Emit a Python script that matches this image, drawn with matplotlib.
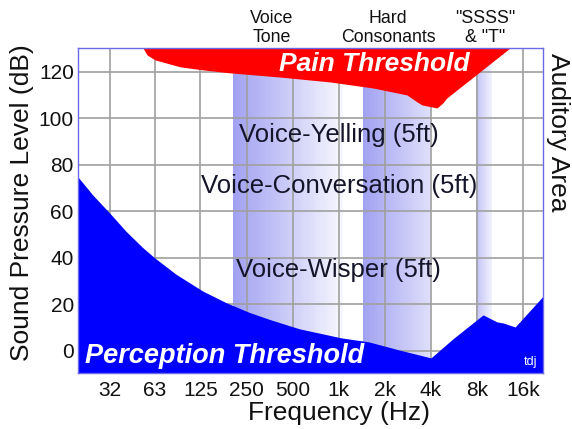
import numpy as np
import matplotlib
matplotlib.use("Agg")
import matplotlib.pyplot as plt
from matplotlib.colors import LinearSegmentedColormap

plt.rcParams['font.family'] = ['Liberation Sans', 'DejaVu Sans']

# perception threshold (blue, lower region)
perc_freq = [19.8, 24.7, 32, 40.7, 52.3, 62.8, 86.4, 129, 183, 262, 355, 554,
             1040, 1570, 2450, 4000, 5600, 8770, 10790, 11900, 14200, 21600]
perc_db = [74.8, 67.1, 59.2, 51.5, 44.5, 40, 33, 25.8, 20.8, 16.5, 13.5, 9.5,
           5.6, 3.9, 0.5, -3, 5.3, 15.5, 12.5, 12, 10.3, 23.5]

# pain threshold (red, upper region)
pain_freq = [52.6, 56, 63, 92, 129, 195, 413, 877, 1675, 2790, 3250, 3500,
             4390, 4790, 5080, 13160]
pain_db = [130.3, 127.3, 125.2, 122.2, 120.9, 119.6, 117.8, 115.7, 113.1,
           110.1, 107.1, 105.8, 104.5, 106.7, 108.8, 130.3]

# shaded speech bands
band_names = ["Voice\nTone", "Hard\nConsonants", "\"SSSS\"\n& \"T\""]
band_lo = [204, 1440, 7900]
band_hi = [1064, 4000, 10000]
band_shade = [(0.0, 0.9), (0.0, 0.65), (0.35, 0.85)]
band_label_x = [366, 2100, 9000]

voice_labels = ["Voice-Yelling (5ft)", "Voice-Conversation (5ft)", "Voice-Wisper (5ft)"]
voice_label_db = [93, 71, 35]

xticks = [32, 63, 125, 250, 500, 1000, 2000, 4000, 8000, 16000]
xticklabels = ["32", "63", "125", "250", "500", "1k", "2k", "4k", "8k", "16k"]
yticks = [0, 20, 40, 60, 80, 100, 120]

fig = plt.figure(figsize=(5.72, 4.29), dpi=100)
ax = fig.add_axes([78/572, 1-373/429, 465/572, 325/429])
ax.set_xscale('log', base=2)
ax.set_xlim(19.8, 21600)
ax.set_ylim(-9.5, 130.3)

cmap = LinearSegmentedColormap.from_list('band', ['#a2a2f2', '#ffffff'])
for lo, hi, (t0, t1) in zip(band_lo, band_hi, band_shade):
    xs = np.geomspace(lo, hi, 41)
    c = np.linspace(t0, t1, 40)[None, :]
    ax.pcolormesh(xs, [-20, 140], c, cmap=cmap, vmin=0, vmax=1,
                  shading='flat', zorder=0.2, rasterized=True)

ax.set_xticks(xticks)
ax.set_xticklabels(xticklabels)
ax.set_yticks(yticks)
ax.minorticks_off()
ax.grid(True, color='#a0a0a0', linewidth=1.2)
ax.set_axisbelow(True)
ax.tick_params(length=0, labelsize=15, colors='#111111')
ax.tick_params(axis='x', pad=6)
ax.tick_params(axis='y', pad=3)

ax.fill_between(perc_freq, -20, perc_db, color='#0000ff', lw=0, zorder=2)
ax.fill_between(pain_freq, pain_db, 140, color='#ff0000', lw=0, zorder=2)

for s in ax.spines.values():
    s.set_color('#6a6ae8')
    s.set_linewidth(1.0)
    s.set_zorder(3)

ax.text(1700, 123.3, "Pain Threshold", color='white', fontsize=19,
        fontweight='bold', style='italic', ha='center', va='center', zorder=4)
ax.text(181, -2.2, "Perception Threshold", color='white', fontsize=19.5,
        fontweight='bold', style='italic', ha='center', va='center', zorder=4)
ax.text(17800, -4.7, "tdj", color='white', fontsize=9, ha='center',
        va='center', zorder=4)

for lbl, db in zip(voice_labels, voice_label_db):
    ax.text(1000, db, lbl, fontsize=18.5, color='#15152a', ha='center',
            va='center', zorder=4)

xt = ax.get_xaxis_transform()
for name, x in zip(band_names, band_label_x):
    ax.text(x, 1.062, name, transform=xt, fontsize=12.8, ha='center',
            va='center', linespacing=1.2, color='#111111')

ax.text(1.032, 0.985, "Auditory Area", transform=ax.transAxes, rotation=270,
        fontsize=19, ha='center', va='top', color='#111111')
fig.text(339/572, 1-413/429, "Frequency (Hz)", fontsize=19, ha='center',
         va='center', color='#111111')
fig.text(22/572, 1-203/429, "Sound Pressure Level (dB)", fontsize=19,
         rotation=90, ha='center', va='center', color='#111111')

fig.savefig("out.png", dpi=100)
